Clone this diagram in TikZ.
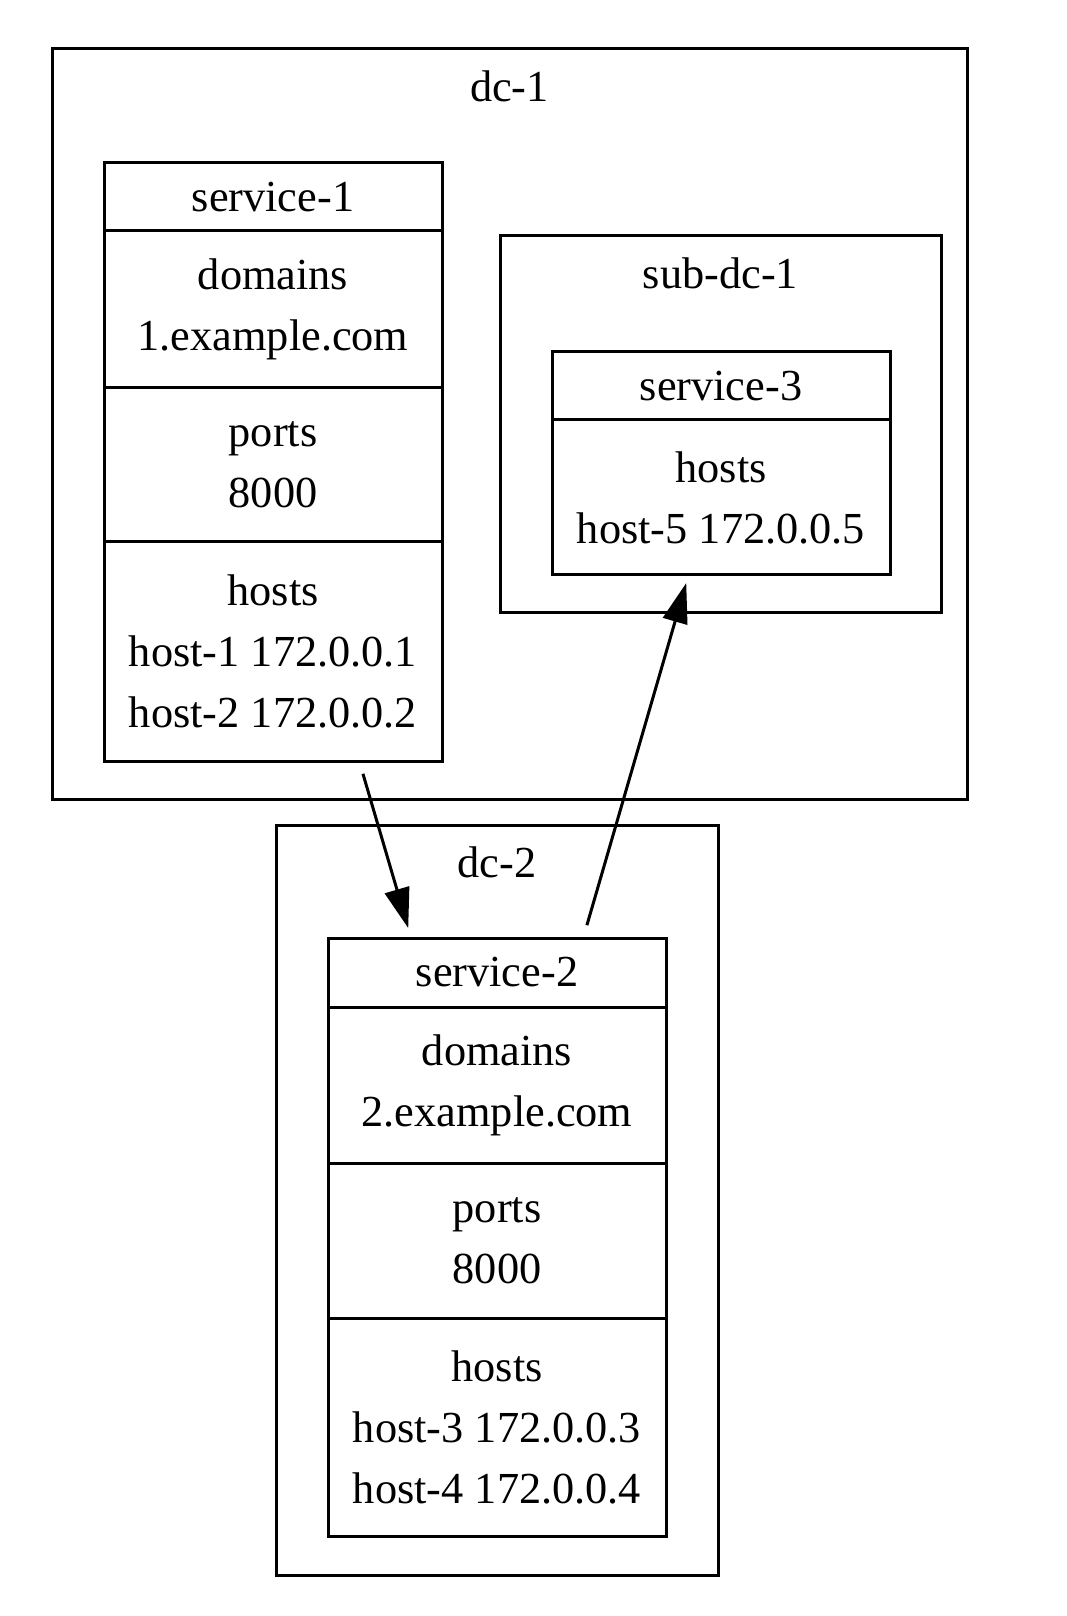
\documentclass[tikz,border=0pt]{standalone}
\usepackage{fontspec}
\setmainfont{Liberation Serif}
\usetikzlibrary{arrows.meta,positioning,calc}
\newcommand{\px}{0.3pt}

\begin{document}
\begin{tikzpicture}[x=\px, y=-\px, line width=0.9pt, >={Triangle[length=12pt,width=7.5pt]},
                    font=\fontsize{13.3}{18.3}\selectfont]
	  \tikzstyle{field}=[draw, minimum width=338*\px, inner sep=0pt, outer sep=0pt, align=center]
	  \tikzstyle{cluster}=[draw, inner sep=0pt, outer sep=0pt]

	  \useasboundingbox (0,0) rectangle (1066,1616);

	  % clusters
	  \node[cluster, minimum width=915*\px, minimum height=750*\px] (dc1) at (509.5,424) {};
	  \node (dc1-label) at ([yshift=-37*\px]dc1.north) {dc-1};
	  \node[cluster, minimum width=441*\px, minimum height=377*\px] (subdc1) at (720.5,424.5) {};
	  \node (subdc1-label) at ([yshift=-37*\px]subdc1.north) {sub-dc-1};
	  \node[cluster, minimum width=442*\px, minimum height=750*\px] (dc2) at (497,1200) {};
	  \node (dc2-label) at ([yshift=-37*\px]dc2.north) {dc-2};

	  % service-1
	  \node[field, minimum height=68*\px]  (s1-name)  at (273,197)    {service-1};
	  \node[field, minimum height=157*\px] (s1-dom)   [below=0pt of s1-name] {domains\\1.example.com};
	  \node[field, minimum height=154*\px] (s1-ports) [below=0pt of s1-dom]  {ports\\8000};
	  \node[field, minimum height=219*\px] (s1-hosts) [below=0pt of s1-ports] {hosts\\host-1 172.0.0.1\\host-2 172.0.0.2};

	  % service-3
	  \node[field, minimum height=68*\px]  (s3-name)  at (721,386)    {service-3};
	  \node[field, minimum height=155*\px] (s3-hosts) [below=0pt of s3-name] {hosts\\host-5 172.0.0.5};

	  % service-2
	  \node[field, minimum height=69*\px]  (s2-name)  at (497,972.5)  {service-2};
	  \node[field, minimum height=156*\px] (s2-dom)   [below=0pt of s2-name] {domains\\2.example.com};
	  \node[field, minimum height=155*\px] (s2-ports) [below=0pt of s2-dom]  {ports\\8000};
	  \node[field, minimum height=218*\px] (s2-hosts) [below=0pt of s2-ports] {hosts\\host-3 172.0.0.3\\host-4 172.0.0.4};

	  \coordinate (e1-tail) at ($(s1-hosts.south west)!0.755!(s1-hosts.south east)$);
	  \coordinate (e1-head) at ($(s2-name.north west)!0.246!(s2-name.north east)$);
	  \coordinate (e2-tail) at ($(s2-name.north west)!0.755!(s2-name.north east)$);
	  \coordinate (e2-head) at ($(s3-hosts.south west)!0.404!(s3-hosts.south east)$);

	  \draw[->, shorten <=4pt, shorten >=3.1pt] (e1-tail) -- (e1-head);
	  \draw[->, shorten <=4pt, shorten >=2.5pt] (e2-tail) -- (e2-head);
\end{tikzpicture}
\end{document}
